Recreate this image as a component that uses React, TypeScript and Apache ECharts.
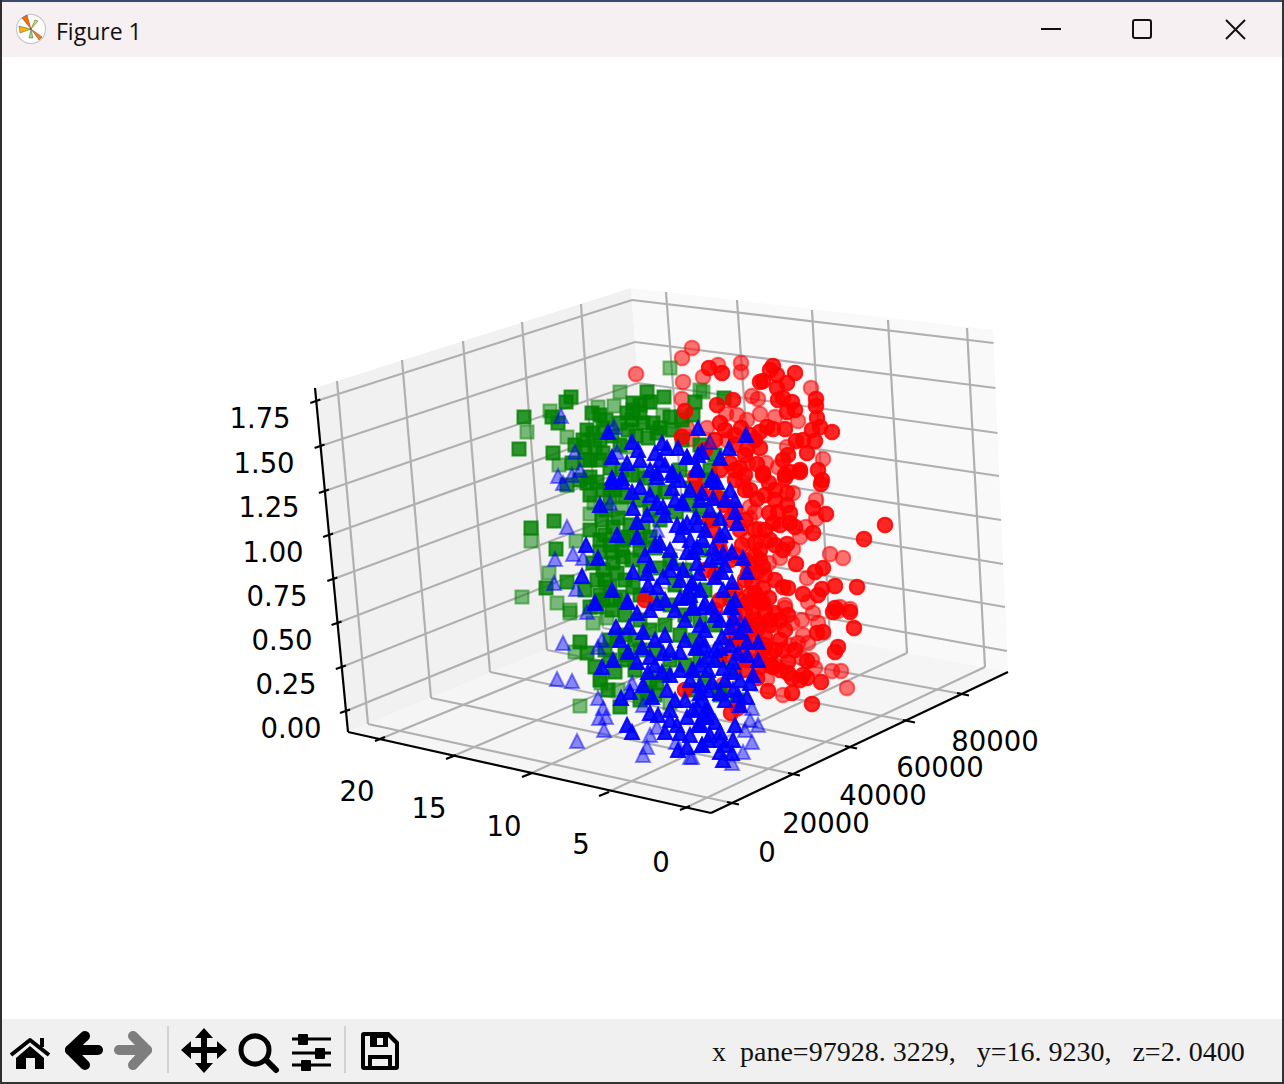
import React, { useEffect, useRef } from "react";
import * as echarts from "echarts";

type P = [number, number];

// Values, on the picture plane of the projected 3D scatter
const redFar: P[] = [[692,348],[682,358],[636,374],[703,377],[718,365],[741,363],[683,382],[752,396],[758,399],[682,399],[775,417],[760,414],[737,415],[726,414],[798,421],[747,420],[707,428],[687,428],[692,439],[727,440],[787,447],[823,459],[778,467],[766,463],[748,463],[743,482],[793,493],[816,500],[816,519],[750,507],[755,512],[750,518],[806,527],[800,537],[759,529],[748,540],[765,541],[793,549],[830,554],[843,558],[780,558],[769,563],[807,578],[808,602],[785,605],[840,607],[850,609],[785,608],[802,620],[775,625],[792,623],[813,613],[818,623],[838,611],[803,635],[798,643],[808,643],[790,645],[775,665],[802,658],[812,660],[815,668],[832,671],[841,671],[847,688],[767,679],[783,695],[723,685],[811,388],[741,372]];
const redNear: P[] = [[709,368],[722,373],[773,366],[770,370],[777,375],[795,373],[760,382],[763,381],[787,383],[777,388],[733,400],[717,405],[783,398],[792,402],[778,400],[816,399],[816,406],[795,410],[787,412],[817,418],[720,423],[685,411],[741,428],[785,429],[773,429],[767,427],[760,432],[820,427],[832,432],[812,430],[815,441],[803,440],[796,441],[747,449],[760,448],[807,453],[788,455],[783,460],[818,470],[800,470],[790,472],[757,464],[740,468],[763,473],[785,475],[822,480],[730,463],[695,477],[682,437],[763,475],[769,483],[785,478],[800,472],[821,484],[787,493],[757,499],[813,508],[826,514],[769,513],[778,512],[787,505],[790,513],[773,523],[780,525],[790,523],[795,527],[813,533],[885,525],[864,539],[755,543],[787,544],[783,550],[760,550],[755,555],[763,567],[760,560],[796,564],[823,568],[815,572],[775,580],[748,573],[752,583],[783,587],[788,588],[835,586],[857,587],[803,594],[822,589],[818,595],[763,588],[769,598],[760,602],[755,593],[835,608],[747,603],[753,612],[763,603],[775,613],[788,615],[833,612],[850,612],[854,628],[823,632],[817,633],[765,637],[757,630],[750,628],[780,640],[783,650],[838,647],[835,652],[770,655],[763,650],[788,662],[807,661],[788,673],[792,678],[803,675],[807,678],[800,680],[821,682],[768,691],[792,693],[812,704],[738,708],[731,713],[747,660],[760,667],[773,667],[730,520],[740,530],[720,550],[745,560],[735,590],[750,595],[745,610],[730,640],[740,640],[725,655],[715,610],[705,570],[712,530],[685,690],[645,600],[700,490],[745,490],[735,510],[745,520],[755,530],[765,530],[770,540],[775,545],[742,545],[735,555],[750,565],[757,572],[765,575],[745,580],[740,600],[735,615],[755,600],[765,610],[755,620],[745,625],[760,625],[770,625],[735,630],[745,640],[755,640],[765,645],[775,650],[750,650],[740,655],[760,660],[770,665],[757,678],[745,670],[785,630],[795,650],[780,670],[770,620],[780,620],[705,450],[715,440],[725,430],[735,435],[750,435],[755,440],[745,455],[735,470],[745,475],[715,495],[725,505],[735,480],[750,490],[765,495],[775,490],[775,500],[720,540],[730,560],[715,575],[720,600],[710,520],[720,470],[735,445]];
const greenFar: P[] = [[670,368],[620,392],[614,406],[550,411],[527,432],[567,437],[559,465],[598,407],[663,415],[682,417],[531,541],[576,541],[549,573],[522,597],[557,603],[570,610],[590,514],[594,503],[622,508],[638,475],[570,613],[593,623],[607,618],[575,652],[601,683],[618,690],[670,703],[627,447],[580,706],[648,402],[700,390],[703,392]];
const greenNear: P[] = [[647,392],[664,397],[571,397],[566,402],[524,417],[519,449],[552,417],[558,423],[553,453],[592,413],[600,415],[633,403],[640,405],[650,402],[627,413],[633,410],[640,413],[632,420],[643,423],[653,423],[670,417],[657,433],[587,430],[593,433],[583,440],[603,428],[600,440],[575,445],[585,447],[600,460],[572,463],[590,477],[695,402],[724,398],[693,415],[682,420],[620,423],[554,521],[531,528],[556,549],[546,588],[567,582],[602,520],[613,527],[600,540],[587,483],[597,482],[567,485],[615,490],[627,537],[622,550],[610,545],[613,563],[623,557],[603,570],[593,563],[597,580],[617,573],[610,587],[620,597],[603,600],[640,550],[643,527],[650,537],[590,607],[633,587],[580,642],[587,653],[595,667],[608,690],[620,707],[597,607],[617,637],[627,660],[647,693],[657,683],[606,420],[612,436],[620,445],[628,430],[636,436],[648,438],[660,428],[672,430],[682,440],[595,448],[603,453],[590,460],[610,468],[622,470],[632,475],[645,478],[655,490],[665,492],[680,470],[692,488],[603,490],[625,497],[640,500],[650,510],[660,520],[676,512],[690,505],[606,510],[618,518],[630,525],[624,540],[640,540],[655,548],[670,560],[685,570],[600,552],[612,552],[632,560],[645,570],[660,568],[675,585],[690,598],[605,580],[625,580],[640,595],[655,600],[670,605],[685,615],[700,620],[612,610],[625,615],[640,620],[650,630],[665,625],[680,635],[695,640],[610,640],[625,635],[640,650],[655,650],[670,660],[685,665],[700,660],[605,650],[615,672],[635,670],[650,680],[665,675],[690,690],[705,680],[720,690],[735,670],[720,660],[735,640],[715,625],[730,598],[705,590],[717,570],[700,550],[712,520],[700,510],[720,498],[705,480],[715,455],[700,445],[710,470],[737,700],[720,695],[585,460],[580,480],[590,495],[610,497],[590,530],[605,535],[585,590],[600,595],[615,600],[625,655],[635,640],[600,680],[610,660],[640,700],[655,695]];
const blueFar: P[] = [[561,416],[614,427],[575,452],[617,452],[580,470],[558,476],[710,442],[572,475],[563,483],[610,503],[567,527],[657,530],[573,554],[555,559],[583,558],[576,589],[595,602],[587,612],[563,643],[598,647],[602,640],[557,679],[572,681],[632,683],[598,698],[643,705],[603,708],[599,718],[606,717],[604,730],[577,741],[650,735],[657,727],[676,742],[690,757],[643,755],[647,747],[740,622],[752,708],[750,720],[758,725],[745,730],[752,742],[743,752],[732,763],[692,757],[554,583]];
const blueNear: P[] = [[608,432],[612,457],[627,463],[632,442],[638,450],[640,460],[655,453],[662,443],[667,448],[678,448],[687,457],[697,467],[672,472],[657,473],[660,460],[612,478],[622,478],[698,428],[729,448],[746,435],[702,452],[698,455],[720,458],[687,457],[697,468],[712,477],[612,482],[622,482],[640,487],[632,492],[600,505],[633,508],[647,515],[637,522],[672,488],[657,477],[673,475],[682,502],[663,507],[657,503],[677,525],[687,523],[697,525],[617,535],[637,537],[660,543],[586,545],[598,558],[670,550],[687,552],[697,547],[650,565],[633,572],[582,576],[612,590],[663,577],[673,563],[692,583],[647,573],[657,587],[627,602],[680,598],[648,585],[697,563],[697,470],[712,480],[717,482],[702,493],[713,498],[730,490],[735,500],[683,503],[696,517],[720,518],[737,523],[725,532],[683,527],[705,530],[703,540],[713,548],[732,552],[723,553],[693,552],[743,558],[717,557],[747,572],[699,573],[715,577],[722,572],[732,582],[723,590],[692,583],[735,600],[683,570],[685,597],[705,603],[693,607],[712,607],[730,607],[595,603],[637,613],[628,602],[657,603],[616,627],[629,627],[643,632],[620,640],[642,647],[663,653],[680,652],[696,647],[628,652],[613,660],[602,667],[637,662],[650,657],[692,670],[662,672],[648,672],[630,692],[643,685],[667,690],[675,700],[700,685],[652,697],[621,698],[650,713],[658,715],[627,725],[632,732],[670,720],[677,725],[687,717],[698,725],[707,707],[665,732],[678,750],[687,747],[702,745],[707,717],[680,733],[693,710],[700,723],[708,740],[693,608],[703,607],[732,607],[733,618],[705,630],[700,625],[722,637],[730,627],[740,632],[747,642],[758,642],[697,648],[720,648],[738,653],[747,655],[758,660],[707,657],[733,662],[708,670],[723,668],[753,675],[733,672],[712,682],[693,670],[750,683],[733,690],[720,693],[700,693],[747,697],[738,695],[708,690],[698,708],[707,710],[707,717],[700,725],[720,732],[710,735],[702,745],[720,740],[733,740],[732,753],[720,752],[723,760],[650,470],[665,465],[680,480],[690,490],[650,495],[665,515],[675,500],[690,540],[680,535],[700,500],[710,510],[725,500],[735,512],[720,535],[710,560],[725,565],[700,590],[690,595],[670,570],[680,580],[655,545],[645,555],[665,600],[650,610],[675,610],[685,620],[665,635],[655,640],[670,650],[685,640],[700,640],[715,650],[730,645],[715,615],[720,620],[745,625],[705,645],[680,670],[670,675],[655,665],[690,680],[725,680],[740,680],[700,665],[715,660],[685,700],[670,710],[700,700],[725,700],[740,705],[715,722],[690,735],[725,745],[735,725]];

const zTicks = ["0.00","0.25","0.50","0.75","1.00","1.25","1.50","1.75"];
const yTicks = ["20","15","10","5","0"];
const xTicks = ["0","20000","40000","60000","80000"];

// Frame of the 3D box as seen in the picture
const A: P = [348,732], B: P = [711,813], C: P = [1008,672], D: P = [655,605];
const At: P = [315,388], Ct: P = [993,330], Dt: P = [631,288];
const zOnLeft: P[] = [[346,711],[341.8,667],[337.5,623],[333.3,579],[329.1,535],[324.9,491],[320.6,446],[316.3,401]];
const zOnBack: P[] = [[653,586],[650,545],[647,504],[644,464],[641,423],[638,383],[635,342],[632,300]];
const zOnRight: P[] = [[1007,651],[1005,607],[1003,564],[1001,520],[999,476],[997.5,433],[995.5,388],[993.5,343]];
const xOnFront: P[] = [[732,803],[793,774],[850,747],[908,721],[962,694]];
const xOnLeftFloor: P[] = [[368,724],[431,698],[490,672],[547,650],[603,628]];
const xOnLeftTop: P[] = [[337,381],[402,360],[463,341],[522,322],[581,304]];
const yOnFront: P[] = [[380,739],[451,757],[527,775],[604,794],[685,808]];
const yOnRightFloor: P[] = [[690,612],[760,625],[830,638],[907,653],[985,667]];
const yOnRightTop: P[] = [[666,292],[737,300],[812,310],[888,320],[967,328]];
const zLabelPos: P[] = [[260,418],[264,463],[269,507],[273,552],[277,596],[282,640],[286,684],[291,728]].reverse() as P[];
const yLabelPos: P[] = [[357,791],[429,808],[504,826],[581,844],[661,862]];
const xLabelPos: P[] = [[767,852],[826,823],[883,795],[940,767],[995,741]];

const seg = (a: P, b: P, color: string, width: number, z = 1) => ({
  type: "line", data: [a, b], symbol: "none", silent: true, z,
  lineStyle: { color, width, cap: "butt" }, animation: false,
});

const scatter = (data: P[], symbol: string, size: number, rgb: string, alpha: number, z: number) => ({
  type: "scatter", data, symbol, symbolSize: size, z, silent: true,
  itemStyle: { color: `rgba(${rgb},${alpha})`, borderColor: `rgba(${rgb},${alpha})`, borderWidth: 2, opacity: 1 },
});

const GREY = "#b0b0b0";
const ICONS: Record<string, string> = {
  home: "M16,1058L30,1046L44,1058L44,1069L35,1069L35,1058L26,1058L26,1069L16,1069Z",
  move: "M204,1028L213,1038L207,1038L207,1047L217,1047L217,1041L227,1050L217,1059L217,1053L207,1053L207,1063L213,1063L204,1073L195,1063L201,1063L201,1053L191,1053L191,1059L181,1050L191,1041L191,1047L201,1047L201,1038L195,1038Z",
  save: "M364,1032L389,1032L399,1042L399,1067Q399,1070 396,1070L364,1070Q361,1070 361,1067L361,1035Q361,1032 364,1032Z",
  saveIn: "M365,1036L370,1036L370,1047L388,1047L388,1037L395,1044L395,1066L392,1066L392,1055L368,1055L368,1066L365,1066Z",
};

export default function App() {
  const ref = useRef<HTMLDivElement>(null);
  useEffect(() => {
    Object.entries(ICONS).forEach(([k, d]) => echarts.graphic.registerShape(k, echarts.graphic.extendPath(d, {})));
    const chart = echarts.init(ref.current!, null, { renderer: "svg" });
    const poly = (points: P[], fill: string, z = 0, extra: any = {}) => ({ type: "polygon", z, silent: true, shape: { points }, style: { fill, ...extra } });
    const pl = (points: P[], stroke: string, lineWidth: number, z = 10, cap = "round") => ({ type: "polyline", z, silent: true, shape: { points }, style: { stroke, lineWidth, fill: "none", lineCap: cap, lineJoin: "round" } });
    const rect = (x: number, y: number, width: number, height: number, fill: string, z = 10, r = 0) => ({ type: "rect", z, silent: true, shape: { x, y, width, height, r }, style: { fill } });
    const txt = (x: number, y: number, text: string, font: string, size: number, align = "center", fill = "#000") => ({ type: "text", z: 12, silent: true, x, y, style: { text, fill, font: `${size}px ${font}`, align, verticalAlign: "middle" } });
    const dj = "'DejaVu Sans'";
    const shape = (type: string, fill: string, z = 11) => ({ type, x: 0, y: 0, z, silent: true, style: { fill } });

    const frame: any[] = [];
    zOnLeft.forEach((p, i) => {
      frame.push(seg(p, zOnBack[i], GREY, 2.2));
      frame.push(seg(zOnBack[i], zOnRight[i], GREY, 2.2));
      frame.push(seg([p[0] - 6, p[1] + 2], [p[0] + 4, p[1] - 1.5], "#000", 2.2, 3));
    });
    xOnFront.forEach((p, i) => {
      frame.push(seg(p, xOnLeftFloor[i], GREY, 2.2));
      frame.push(seg(xOnLeftFloor[i], xOnLeftTop[i], GREY, 2.2));
      frame.push(seg([p[0] - 5, p[1] - 1], [p[0] + 7, p[1] + 1.5], "#000", 2.2, 3));
    });
    yOnFront.forEach((p, i) => {
      frame.push(seg(p, yOnRightFloor[i], GREY, 2.2));
      frame.push(seg(yOnRightFloor[i], yOnRightTop[i], GREY, 2.2));
      frame.push(seg([p[0] - 5, p[1] + 2], [p[0] + 5, p[1] - 2], "#000", 2.2, 3));
    });
    frame.push(seg(At, A, "#000", 2.2, 3), seg(A, B, "#000", 2.2, 3), seg(B, C, "#000", 2.2, 3));

    chart.setOption({
      animation: false,
      backgroundColor: "#fff",
      grid: { left: 0, right: 0, top: 0, bottom: 0 },
      xAxis: { type: "value", min: 0, max: 1284, show: false },
      yAxis: { type: "value", min: 0, max: 1084, inverse: true, show: false },
      series: [
        ...frame,
        scatter(redFar, "circle", 14.5, "255,0,0", 0.55, 4),
        scatter(greenFar, "rect", 13, "0,128,0", 0.5, 5),
        scatter(greenNear, "rect", 13, "0,128,0", 0.82, 6),
        scatter(redNear, "circle", 14.5, "255,0,0", 0.85, 7),
        scatter(blueFar, "triangle", 14, "0,0,255", 0.45, 8),
        scatter(blueNear, "triangle", 14, "0,0,255", 0.9, 9),
      ],
      graphic: [
        poly([At, Dt, D, A], "#f1f1f1"),
        poly([Dt, Ct, C, D], "#f9f9f9"),
        poly([A, D, C, B], "#f5f5f5"),
        ...zTicks.map((t, i) => txt(zLabelPos[i][0], zLabelPos[i][1], t, dj, 27.5)),
        ...yTicks.map((t, i) => txt(yLabelPos[i][0], yLabelPos[i][1], t, dj, 27.5)),
        ...xTicks.map((t, i) => txt(xLabelPos[i][0], xLabelPos[i][1], t, dj, 27.5)),
        // window frame
        rect(0, 0, 1284, 2, "#3a4a6e", 9),
        rect(0, 0, 2, 1084, "#2e2e2e", 9),
        rect(1282, 0, 2, 1084, "#333", 9),
        rect(0, 1082, 1284, 2, "#333", 9),
        rect(2, 2, 1280, 55, "#f7f0f3", 10, 0),
        rect(2, 1019, 1280, 63, "#f0f0f0", 10),
        // app icon
        { type: "circle", z: 11, silent: true, shape: { cx: 31, cy: 29, r: 14.5 }, style: { fill: "#fff", stroke: "#c8c8c8", lineWidth: 1.2 } },
        poly([[31,29],[22,18],[27,15]], "#ff6a00", 12, { stroke: "#333", lineWidth: 0.4 }),
        poly([[31,29],[19,26],[20,33]], "#ffb000", 12, { stroke: "#333", lineWidth: 0.4 }),
        poly([[31,29],[42,37],[39,40]], "#ff7a10", 12, { stroke: "#333", lineWidth: 0.4 }),
        poly([[31,29],[29,38],[33,38]], "#8fe070", 12, { stroke: "#333", lineWidth: 0.4 }),
        poly([[31,29],[35,20],[38,21]], "#c8e040", 12, { stroke: "#333", lineWidth: 0.4 }),
        txt(56, 31, "Figure 1", "'Open Sans'", 23, "left", "#111"),
        // window buttons
        pl([[1041,29],[1061,29]], "#111", 2, 11, "butt"),
        { type: "rect", z: 11, silent: true, shape: { x: 1133, y: 20, width: 18, height: 18, r: 2 }, style: { fill: "none", stroke: "#111", lineWidth: 2 } },
        pl([[1226,20],[1245,39]], "#111", 2, 11, "butt"),
        pl([[1245,20],[1226,39]], "#111", 2, 11, "butt"),
        // toolbar
        pl([[11,1055],[30,1040],[49,1055]], "#000", 4, 11, "butt"),
        rect(40, 1038, 4, 9, "#000", 11),
        shape("home", "#000"),
        pl([[85,1036],[70,1050],[85,1065]], "#000", 10, 11),
        pl([[70,1050],[98,1050]], "#000", 10, 11),
        pl([[133,1036],[147,1050],[133,1065]], "#7e7e7e", 10, 11),
        pl([[119,1050],[147,1050]], "#7e7e7e", 10, 11),
        pl([[168,1026],[168,1073]], "#b4b4b4", 1, 11, "butt"),
        shape("move", "#000"),
        { type: "circle", z: 11, silent: true, shape: { cx: 255, cy: 1050, r: 14 }, style: { fill: "none", stroke: "#000", lineWidth: 5 } },
        pl([[266,1060],[276,1070]], "#000", 6, 11),
        pl([[292,1039],[331,1039]], "#000", 3, 11, "butt"),
        pl([[292,1053],[331,1053]], "#000", 3, 11, "butt"),
        pl([[292,1065],[331,1065]], "#000", 3, 11, "butt"),
        rect(298, 1034, 10, 11, "#000", 11, 1),
        rect(315, 1048, 10, 11, "#000", 11, 1),
        rect(301, 1060, 10, 11, "#000", 11, 1),
        pl([[345,1026],[345,1073]], "#b4b4b4", 1, 11, "butt"),
        shape("save", "#000"),
        shape("saveIn", "#f0f0f0", 12),
        rect(377, 1038, 6, 7, "#f0f0f0", 12),
        rect(372, 1059, 16, 7, "#f0f0f0", 12),
        txt(712, 1051, "x  pane=97928. 3229,   y=16. 9230,   z=2. 0400", "'Liberation Serif'", 28, "left", "#111"),
      ],
    });
    return () => chart.dispose();
  }, []);
  return <div ref={ref} style={{ position: "fixed", left: 0, top: 0, width: 1284, height: 1084 }} />;
}
